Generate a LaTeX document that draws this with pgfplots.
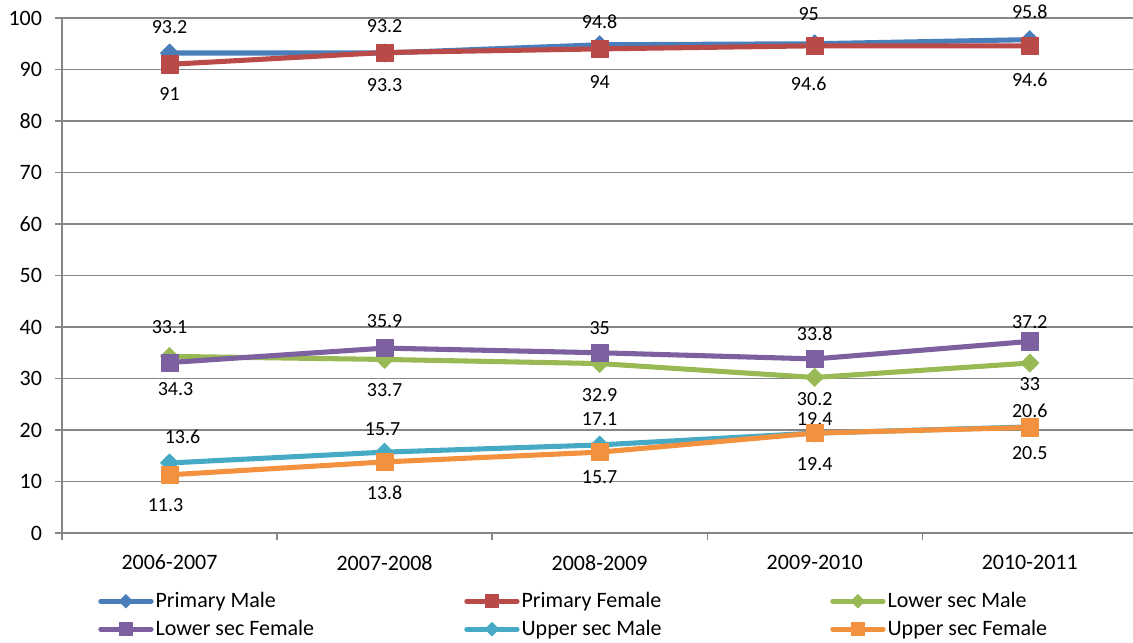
\documentclass[border=0pt]{standalone}
\usepackage{pgfplots}
\pgfplotsset{compat=1.18}
\usepackage{pgfplotstable}
\usepackage{fontspec}
\setmainfont{Carlito}

\definecolor{pmale}{HTML}{4A7EBB}
\definecolor{pfemale}{HTML}{BA4A47}
\definecolor{lmale}{HTML}{98B954}
\definecolor{lfemale}{HTML}{7D60A0}
\definecolor{umale}{HTML}{46AAC5}
\definecolor{ufemale}{HTML}{F3913F}
\definecolor{gridgray}{HTML}{868686}

% x = year index, dx/dy = label offset from the marker (px)
\pgfplotstableread{
x y dx dy
0 93.2 0 25.5
1 93.2 0 27
2 94.8 0 23
3 95 -6 30
4 95.8 0 27.6
}\pmaledata
\pgfplotstableread{
x y dx dy
0 91 0 -30
1 93.3 0 -33
2 94 0 -33
3 94.6 -6 -38
4 94.6 0 -34
}\pfemaledata
\pgfplotstableread{
x y dx dy
0 34.3 6 -33
1 33.7 0 -30.6
2 32.9 0 -31.5
3 30.2 0 -21.5
4 33 0 -21
}\lmaledata
\pgfplotstableread{
x y dx dy
0 33.1 0 35.5
1 35.9 0 27
2 35 0 25
3 33.8 0 25
4 37.2 0 19.5
}\lfemaledata
\pgfplotstableread{
x y dx dy
0 13.6 13 26
1 15.7 -2 23
2 17.1 0 25.5
3 19.4 0 14.5
4 20.6 0 16.5
}\umaledata
\pgfplotstableread{
x y dx dy
0 11.3 -4 -30
1 13.8 0 -31
2 15.7 0 -25
3 19.4 0 -31
4 20.5 0 -26
}\ufemaledata

\newcommand{\chartfont}{\fontsize{16.5}{19.5}\selectfont}
\newcommand{\labelfont}{\fontsize{15}{18}\selectfont}

\pgfplotsset{
  series/.style={color=#1, line width=3.8pt, line join=round,
    mark options={solid, fill=#1, draw=#1, line width=0.5pt}},
  dia/.style={mark=square*, mark size=4.8pt, every mark/.append style={rotate=45}},
  sq/.style={mark=square*, mark size=6.5pt},
  labelled/.style={
    nodes near coords,
    visualization depends on={\thisrow{dx} \as \dx},
    visualization depends on={\thisrow{dy} \as \dy},
    every node near coord/.append style={black, anchor=center, inner sep=0.5pt,
      font=\labelfont, xshift=0.75*\dx*1pt, yshift=0.75*\dy*1pt},
  },
}

\begin{document}
\begin{tikzpicture}
\begin{axis}[
  scale only axis,
  width=803.25pt, height=386.25pt,
  xmin=-0.5, xmax=4.48, ymin=0, ymax=100,
  axis lines*=left,
  axis line style={draw=gridgray, line width=1pt},
  ytick={0,10,...,100},
  ymajorgrids,
  major grid style={draw=gridgray, line width=1pt},
  tick align=outside,
  major tick length=5pt,
  tick style={draw=gridgray, line width=1pt},
  xtick={-0.5,0.5,1.5,2.5,3.5},
  xticklabels={2006-2007,2007-2008,2008-2009,2009-2010,2010-2011},
  xticklabel style={xshift=80.625pt, yshift=-8pt},
  yticklabel style={xshift=-6.5pt},
  tick label style={font=\chartfont},
  /pgf/number format/assume math mode=true,
  legend columns=3,
  legend cell align=left,
  legend image code/.code={
    \draw[mark repeat=2, mark phase=2, #1, line width=3.5pt, line cap=round,
      /tikz/every mark/.append style={scale=0.75}]
      plot coordinates {(0pt,0pt) (19pt,0pt) (38pt,0pt)};
  },
  legend style={at={(0,0)}, anchor=north west, xshift=27pt, yshift=-43pt,
    draw=none, fill=none, inner sep=0pt, font=\chartfont,
    nodes={inner sep=1.5pt}, row sep=5pt},
]
\addplot[series=pmale, dia, labelled] table[x=x, y=y] {\pmaledata};
\addlegendentry{\makebox[230pt][l]{Primary Male}}
\addplot[series=pfemale, sq, labelled] table[x=x, y=y] {\pfemaledata};
\addlegendentry{\makebox[230pt][l]{Primary Female}}
\addplot[series=lmale, dia, labelled] table[x=x, y=y] {\lmaledata};
\addlegendentry{Lower sec Male}
\addplot[series=lfemale, sq, labelled] table[x=x, y=y] {\lfemaledata};
\addlegendentry{\makebox[230pt][l]{Lower sec Female}}
\addplot[series=umale, dia, labelled] table[x=x, y=y] {\umaledata};
\addlegendentry{\makebox[230pt][l]{Upper sec Male}}
\addplot[series=ufemale, sq, labelled] table[x=x, y=y] {\ufemaledata};
\addlegendentry{Upper sec Female}
\coordinate (sw) at (rel axis cs:0,0);
\coordinate (ne) at (rel axis cs:1,1);
\end{axis}
\pgfresetboundingbox
\path ([xshift=-46.5pt, yshift=-81.75pt]sw) rectangle ([yshift=13.5pt]ne);
\end{tikzpicture}
\end{document}
